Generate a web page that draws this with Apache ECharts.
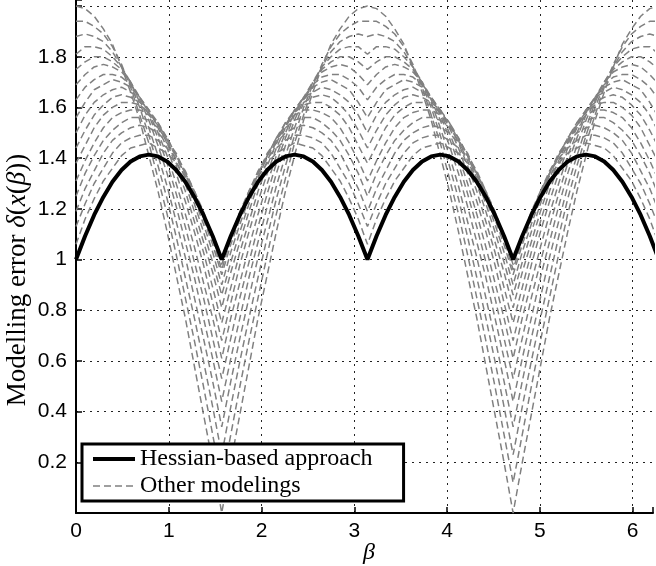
<!DOCTYPE html>
<html>
<head>
<meta charset="utf-8">
<script src="https://cdn.jsdelivr.net/npm/echarts@6/dist/echarts.min.js"></script>
<style>
  html, body { margin: 0; padding: 0; background: #fff; }
  #main { width: 656px; height: 566px; }
</style>
</head>
<body>
<div id="main"></div>
<script>
// beta samples (rad), step pi/32 from 0 to 2pi
var betaVals = [0,0.098,0.196,0.295,0.393,0.491,0.589,0.687,0.785,0.884,0.982,1.080,1.178,1.276,1.374,1.473,1.571,
  1.669,1.767,1.865,1.963,2.062,2.160,2.258,2.356,2.454,2.553,2.651,2.749,2.847,2.945,3.043,3.142,
  3.240,3.338,3.436,3.534,3.632,3.731,3.829,3.927,4.025,4.123,4.221,4.320,4.418,4.516,4.614,4.712,
  4.811,4.909,5.007,5.105,5.203,5.301,5.400,5.498,5.596,5.694,5.792,5.890,5.989,6.087,6.185,6.283];

// Hessian-based approach
var hessian = [1.000,
  1.093,1.176,1.247,1.307,1.353,1.387,1.407,1.414,1.407,1.387,1.353,1.307,1.247,1.176,1.093,1.000,
  1.093,1.176,1.247,1.307,1.353,1.387,1.407,1.414,1.407,1.387,1.353,1.307,1.247,1.176,1.093,1.000,
  1.093,1.176,1.247,1.307,1.353,1.387,1.407,1.414,1.407,1.387,1.353,1.307,1.247,1.176,1.093,1.000,
  1.093,1.176,1.247,1.307,1.353,1.387,1.407,1.414,1.407,1.387,1.353,1.307,1.247,1.176,1.093,1.000];

// other modelings, one array per curve
var other01 = [1.06,1.16,1.24,1.31,1.36,1.41,1.44,1.45,1.46,1.44,1.42,1.38,1.33,1.26,1.18,1.10,1.00,
  1.10,1.18,1.26,1.33,1.38,1.42,1.44,1.46,1.45,1.44,1.41,1.36,1.31,1.24,1.16,1.06,
  1.16,1.24,1.31,1.36,1.41,1.44,1.45,1.46,1.44,1.42,1.38,1.33,1.26,1.18,1.10,1.00,
  1.10,1.18,1.26,1.33,1.38,1.42,1.44,1.46,1.45,1.44,1.41,1.36,1.31,1.24,1.16,1.06];
var other02 = [1.13,1.22,1.30,1.36,1.42,1.46,1.48,1.49,1.49,1.47,1.44,1.40,1.34,1.27,1.19,1.09,0.98,
  1.09,1.19,1.27,1.34,1.40,1.44,1.47,1.49,1.49,1.48,1.46,1.42,1.36,1.30,1.22,1.13,
  1.22,1.30,1.36,1.42,1.46,1.48,1.49,1.49,1.47,1.44,1.40,1.34,1.27,1.19,1.09,0.98,
  1.09,1.19,1.27,1.34,1.40,1.44,1.47,1.49,1.49,1.48,1.46,1.42,1.36,1.30,1.22,1.13];
var other03 = [1.19,1.28,1.35,1.42,1.47,1.50,1.52,1.53,1.52,1.50,1.46,1.41,1.35,1.27,1.18,1.08,0.96,
  1.08,1.18,1.27,1.35,1.41,1.46,1.50,1.52,1.53,1.52,1.50,1.47,1.42,1.35,1.28,1.19,
  1.28,1.35,1.42,1.47,1.50,1.52,1.53,1.52,1.50,1.46,1.41,1.35,1.27,1.18,1.08,0.96,
  1.08,1.18,1.27,1.35,1.41,1.46,1.50,1.52,1.53,1.52,1.50,1.47,1.42,1.35,1.28,1.19];
var other04 = [1.25,1.34,1.41,1.47,1.51,1.54,1.56,1.56,1.55,1.52,1.47,1.42,1.34,1.26,1.16,1.06,0.94,
  1.06,1.16,1.26,1.34,1.42,1.47,1.52,1.55,1.56,1.56,1.54,1.51,1.47,1.41,1.34,1.25,
  1.34,1.41,1.47,1.51,1.54,1.56,1.56,1.55,1.52,1.47,1.42,1.34,1.26,1.16,1.06,0.94,
  1.06,1.16,1.26,1.34,1.42,1.47,1.52,1.55,1.56,1.56,1.54,1.51,1.47,1.41,1.34,1.25];
var other05 = [1.31,1.39,1.46,1.52,1.56,1.58,1.59,1.59,1.57,1.53,1.48,1.41,1.34,1.24,1.14,1.03,0.90,
  1.03,1.14,1.24,1.34,1.41,1.48,1.53,1.57,1.59,1.59,1.58,1.56,1.52,1.46,1.39,1.31,
  1.39,1.46,1.52,1.56,1.58,1.59,1.59,1.57,1.53,1.48,1.41,1.34,1.24,1.14,1.03,0.90,
  1.03,1.14,1.24,1.34,1.41,1.48,1.53,1.57,1.59,1.59,1.58,1.56,1.52,1.46,1.39,1.31];
var other06 = [1.38,1.45,1.52,1.57,1.60,1.62,1.62,1.61,1.58,1.54,1.48,1.41,1.32,1.22,1.11,0.99,0.86,
  0.99,1.11,1.22,1.32,1.41,1.48,1.54,1.58,1.61,1.62,1.62,1.60,1.57,1.52,1.45,1.38,
  1.45,1.52,1.57,1.60,1.62,1.62,1.61,1.58,1.54,1.48,1.41,1.32,1.22,1.11,0.99,0.86,
  0.99,1.11,1.22,1.32,1.41,1.48,1.54,1.58,1.61,1.62,1.62,1.60,1.57,1.52,1.45,1.38];
var other07 = [1.44,1.51,1.57,1.61,1.64,1.65,1.64,1.62,1.59,1.54,1.47,1.39,1.30,1.19,1.07,0.95,0.81,
  0.95,1.07,1.19,1.30,1.39,1.47,1.54,1.59,1.62,1.64,1.65,1.64,1.61,1.57,1.51,1.44,
  1.51,1.57,1.61,1.64,1.65,1.64,1.62,1.59,1.54,1.47,1.39,1.30,1.19,1.07,0.95,0.81,
  0.95,1.07,1.19,1.30,1.39,1.47,1.54,1.59,1.62,1.64,1.65,1.64,1.61,1.57,1.51,1.44];
var other08 = [1.50,1.57,1.62,1.65,1.67,1.68,1.66,1.64,1.59,1.53,1.46,1.37,1.27,1.15,1.03,0.89,0.75,
  0.89,1.03,1.15,1.27,1.37,1.46,1.53,1.59,1.64,1.66,1.68,1.67,1.65,1.62,1.57,1.50,
  1.57,1.62,1.65,1.67,1.68,1.66,1.64,1.59,1.53,1.46,1.37,1.27,1.15,1.03,0.89,0.75,
  0.89,1.03,1.15,1.27,1.37,1.46,1.53,1.59,1.64,1.66,1.68,1.67,1.65,1.62,1.57,1.50];
var other09 = [1.56,1.62,1.67,1.69,1.71,1.70,1.68,1.64,1.59,1.52,1.44,1.34,1.23,1.11,0.98,0.83,0.68,
  0.83,0.98,1.11,1.23,1.34,1.44,1.52,1.59,1.64,1.68,1.70,1.71,1.69,1.67,1.62,1.56,
  1.62,1.67,1.69,1.71,1.70,1.68,1.64,1.59,1.52,1.44,1.34,1.23,1.11,0.98,0.83,0.68,
  0.83,0.98,1.11,1.23,1.34,1.44,1.52,1.59,1.64,1.68,1.70,1.71,1.69,1.67,1.62,1.56];
var other10 = [1.63,1.68,1.71,1.73,1.73,1.72,1.69,1.64,1.58,1.50,1.41,1.30,1.18,1.05,0.91,0.77,0.61,
  0.77,0.91,1.05,1.18,1.30,1.41,1.50,1.58,1.64,1.69,1.72,1.73,1.73,1.71,1.68,1.63,
  1.68,1.71,1.73,1.73,1.72,1.69,1.64,1.58,1.50,1.41,1.30,1.18,1.05,0.91,0.77,0.61,
  0.77,0.91,1.05,1.18,1.30,1.41,1.50,1.58,1.64,1.69,1.72,1.73,1.73,1.71,1.68,1.63];
var other11 = [1.69,1.73,1.76,1.77,1.76,1.74,1.70,1.64,1.57,1.48,1.38,1.26,1.13,0.99,0.85,0.69,0.53,
  0.69,0.85,0.99,1.13,1.26,1.38,1.48,1.57,1.64,1.70,1.74,1.76,1.77,1.76,1.73,1.69,
  1.73,1.76,1.77,1.76,1.74,1.70,1.64,1.57,1.48,1.38,1.26,1.13,0.99,0.85,0.69,0.53,
  0.69,0.85,0.99,1.13,1.26,1.38,1.48,1.57,1.64,1.70,1.74,1.76,1.77,1.76,1.73,1.69];
var other12 = [1.75,1.78,1.80,1.80,1.78,1.75,1.70,1.63,1.55,1.45,1.34,1.21,1.07,0.93,0.77,0.61,0.44,
  0.61,0.77,0.93,1.07,1.21,1.34,1.45,1.55,1.63,1.70,1.75,1.78,1.80,1.80,1.78,1.75,
  1.78,1.80,1.80,1.78,1.75,1.70,1.63,1.55,1.45,1.34,1.21,1.07,0.93,0.77,0.61,0.44,
  0.61,0.77,0.93,1.07,1.21,1.34,1.45,1.55,1.63,1.70,1.75,1.78,1.80,1.80,1.78,1.75];
var other13 = [1.81,1.84,1.84,1.83,1.80,1.76,1.70,1.62,1.52,1.41,1.29,1.15,1.01,0.85,0.69,0.52,0.34,
  0.52,0.69,0.85,1.01,1.15,1.29,1.41,1.52,1.62,1.70,1.76,1.80,1.83,1.84,1.84,1.81,
  1.84,1.84,1.83,1.80,1.76,1.70,1.62,1.52,1.41,1.29,1.15,1.01,0.85,0.69,0.52,0.34,
  0.52,0.69,0.85,1.01,1.15,1.29,1.41,1.52,1.62,1.70,1.76,1.80,1.83,1.84,1.84,1.81];
var other14 = [1.88,1.89,1.88,1.86,1.82,1.76,1.69,1.60,1.49,1.37,1.24,1.09,0.93,0.77,0.60,0.42,0.23,
  0.42,0.60,0.77,0.93,1.09,1.24,1.37,1.49,1.60,1.69,1.76,1.82,1.86,1.88,1.89,1.88,
  1.89,1.88,1.86,1.82,1.76,1.69,1.60,1.49,1.37,1.24,1.09,0.93,0.77,0.60,0.42,0.23,
  0.42,0.60,0.77,0.93,1.09,1.24,1.37,1.49,1.60,1.69,1.76,1.82,1.86,1.88,1.89,1.88];
var other15 = [1.94,1.94,1.92,1.89,1.84,1.77,1.68,1.57,1.46,1.32,1.18,1.02,0.85,0.68,0.50,0.31,0.12,
  0.31,0.50,0.68,0.85,1.02,1.18,1.32,1.46,1.57,1.68,1.77,1.84,1.89,1.92,1.94,1.94,
  1.94,1.92,1.89,1.84,1.77,1.68,1.57,1.46,1.32,1.18,1.02,0.85,0.68,0.50,0.31,0.12,
  0.31,0.50,0.68,0.85,1.02,1.18,1.32,1.46,1.57,1.68,1.77,1.84,1.89,1.92,1.94,1.94];
var other16 = [2.00,1.99,1.96,1.91,1.85,1.76,1.66,1.55,1.41,1.27,1.11,0.94,0.77,0.58,0.39,0.20,0.00,
  0.20,0.39,0.58,0.77,0.94,1.11,1.27,1.41,1.55,1.66,1.76,1.85,1.91,1.96,1.99,2.00,
  1.99,1.96,1.91,1.85,1.76,1.66,1.55,1.41,1.27,1.11,0.94,0.77,0.58,0.39,0.20,0.00,
  0.20,0.39,0.58,0.77,0.94,1.11,1.27,1.41,1.55,1.66,1.76,1.85,1.91,1.96,1.99,2.00];

var otherCurves = [other01, other02, other03, other04, other05, other06, other07, other08,
  other09, other10, other11, other12, other13, other14, other15, other16];

function toPairs(ys) {
  return betaVals.map(function (b, i) { return [b, ys[i]]; });
}

var chart = echarts.init(document.getElementById('main'));

var series = otherCurves.map(function (ys) {
  return {
    name: 'Other modelings',
    type: 'line',
    data: toPairs(ys),
    symbol: 'none',
    silent: true,
    color: '#808080',
    lineStyle: { color: '#808080', width: 1.5, type: [7, 4] },
    z: 2
  };
});
series.push({
  name: 'Hessian-based approach',
  type: 'line',
  data: toPairs(hessian),
  symbol: 'none',
  silent: true,
  color: '#000',
  lineStyle: { color: '#000', width: 4 },
  z: 3
});

var gridDots = { color: '#222', width: 1, type: [2, 5] };

var option = {
  animation: false,
  grid: { left: 76, right: 0, top: 0, bottom: 53, containLabel: false },
  xAxis: {
    type: 'value', min: 0, max: 6.22, interval: 1,
    axisLine: { show: true, onZero: false, lineStyle: { color: '#000', width: 2 } },
    axisTick: { show: true, inside: true, length: 6, lineStyle: { color: '#000', width: 1.5 } },
    axisLabel: {
      color: '#000', fontSize: 21, fontFamily: 'Liberation Sans', margin: 8,
      formatter: function (v) {
        return Math.abs(v - Math.round(v)) < 1e-6 ? String(Math.round(v)) : '';
      }
    },
    splitLine: { show: true, showMinLine: false, showMaxLine: false, lineStyle: gridDots }
  },
  yAxis: {
    type: 'value', min: 0, max: 2.024, interval: 0.2,
    axisLine: { show: true, onZero: false, lineStyle: { color: '#000', width: 2 } },
    axisTick: { show: true, inside: true, length: 6, lineStyle: { color: '#000', width: 1.5 } },
    axisLabel: {
      color: '#000', fontSize: 21, fontFamily: 'Liberation Sans', margin: 9,
      formatter: function (v) {
        if (v < 0.1 || v > 1.9) return '';
        var s = v.toFixed(1);
        return s === '1.0' ? '1' : s;
      }
    },
    splitLine: { show: true, showMinLine: false, showMaxLine: false, lineStyle: gridDots }
  },
  legend: {
    data: ['Hessian-based approach', 'Other modelings'],
    orient: 'vertical', left: 82, top: 444,
    itemWidth: 42, itemHeight: 14, itemGap: 3,
    padding: [3, 31, 3, 9],
    borderColor: '#000', borderWidth: 3, backgroundColor: '#fff',
    selectedMode: false,
    itemStyle: { opacity: 0 },
    lineStyle: { width: 'inherit' },
    textStyle: { fontFamily: 'Liberation Serif', fontSize: 24, color: '#000' }
  },
  graphic: [
    {
      type: 'text', x: 369, y: 553,
      style: { text: 'β', font: 'italic 24px "Liberation Serif"', fill: '#000',
        textAlign: 'center', textVerticalAlign: 'middle' }
    },
    {
      type: 'text', x: 18, y: 280, rotation: Math.PI / 2,
      style: {
        text: '{n|Modelling error }{i|δ}{n|(}{i|x}{n|(}{i|β}{n|))}',
        textAlign: 'center', textVerticalAlign: 'middle',
        rich: {
          n: { fontFamily: 'Liberation Serif', fontSize: 27, fill: '#000' },
          i: { fontFamily: 'Liberation Serif', fontSize: 27, fontStyle: 'italic', fill: '#000' }
        }
      }
    }
  ],
  series: series
};

chart.setOption(option);
</script>
</body>
</html>
